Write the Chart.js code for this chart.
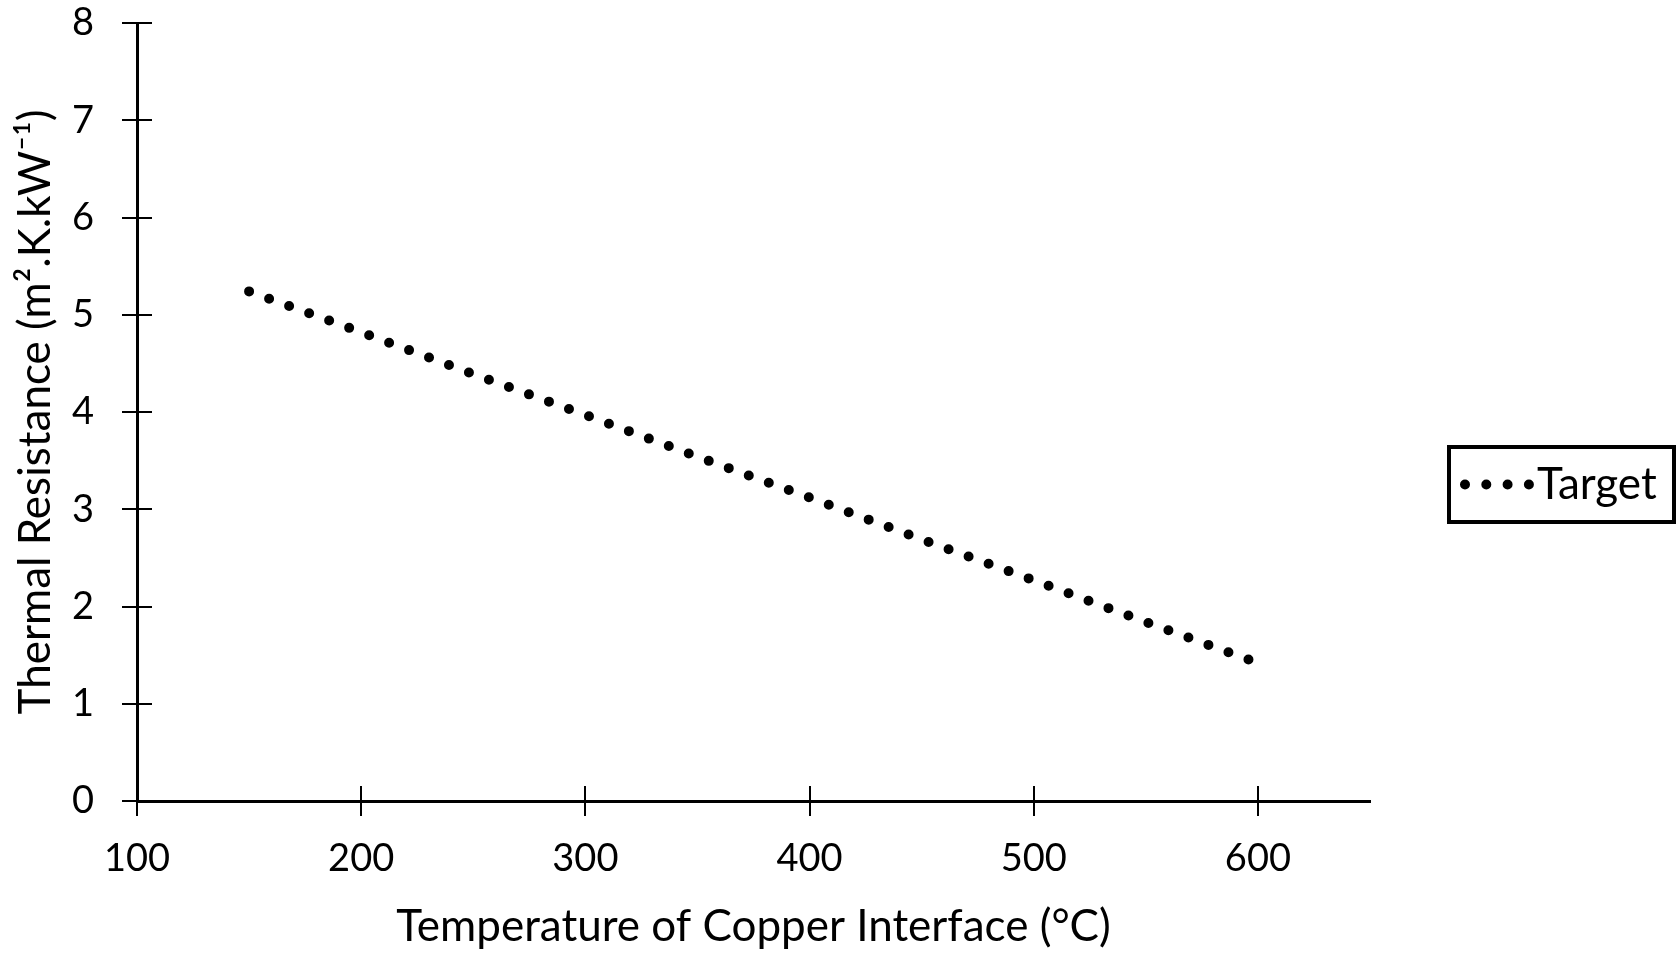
<!DOCTYPE html>
<html>
<head>
<meta charset="utf-8">
<script src="https://cdn.jsdelivr.net/npm/chart.js@4.4.1/dist/chart.umd.min.js"></script>
<style>
  html, body { margin: 0; padding: 0; background: #fff; }
  #wrap { width: 1677px; height: 953px; }
</style>
</head>
<body>
<div id="wrap"><canvas id="chart"></canvas></div>
<script>
// interface temperature (°C) and the target thermal resistance at each
const temperatures = [150, 200, 250, 300, 350, 400, 450, 500, 550, 600]
const targetResistance = [5.24, 4.82, 4.39, 3.97, 3.54, 3.12, 2.69, 2.27, 1.84, 1.42]
const seriesLabel = "Target"
const xTitle = "Temperature of Copper Interface (°C)"
const yTitle = "Thermal Resistance (m².K.kW⁻¹)"

const FONT = "Lato"
const TICK_LEN = 15
const DOT = { width: 10, dash: [0, 21.3] }

// Chart.js only draws ticks outside the axis; add the inner half so they cross
const crossTicks = {
  id: "crossTicks",
  afterDraw(chart) {
    const { ctx, scales: { x, y } } = chart
    ctx.save()
    ctx.strokeStyle = "#000"
    ctx.lineWidth = 2
    ctx.beginPath()
    y.ticks.forEach((t) => {
      const py = Math.round(y.getPixelForValue(t.value))
      ctx.moveTo(y.right, py)
      ctx.lineTo(y.right + TICK_LEN, py)
    })
    x.ticks.forEach((t) => {
      const px = Math.round(x.getPixelForValue(t.value))
      ctx.moveTo(px, x.top)
      ctx.lineTo(px, x.top - TICK_LEN)
    })
    ctx.stroke()
    ctx.restore()
  },
}

// framed legend on the right with a dotted sample
const boxedLegend = {
  id: "boxedLegend",
  afterDraw(chart) {
    const { ctx } = chart
    const ds = chart.data.datasets[0]
    const w = 225
    const h = 75
    const left = chart.width - w - 3
    const top = Math.round(chart.height / 2) - 30
    const midY = top + h / 2

    ctx.save()
    ctx.strokeStyle = "#000"
    ctx.lineWidth = 4
    ctx.strokeRect(left, top, w, h)

    ctx.lineWidth = ds.borderWidth
    ctx.lineCap = "round"
    ctx.setLineDash(ds.borderDash)
    ctx.beginPath()
    ctx.moveTo(left + 16, midY)
    ctx.lineTo(left + 80, midY)
    ctx.stroke()
    ctx.setLineDash([])

    ctx.fillStyle = "#000"
    ctx.font = `44px ${FONT}`
    ctx.textBaseline = "middle"
    ctx.fillText(ds.label, left + 88, midY)
    ctx.restore()
  },
}

new Chart(document.getElementById("chart"), {
  type: "line",
  data: {
    datasets: [
      {
        label: seriesLabel,
        data: temperatures.map((t, i) => ({ x: t, y: targetResistance[i] })),
        borderColor: "#000",
        borderWidth: DOT.width,
        borderDash: DOT.dash,
        borderCapStyle: "round",
        pointRadius: 0,
        tension: 0,
        fill: false,
      },
    ],
  },
  options: {
    responsive: true,
    maintainAspectRatio: false,
    animation: false,
    layout: {
      padding: { top: 23, right: 307, bottom: 0, left: 0 },
    },
    plugins: {
      legend: { display: false },
      tooltip: { enabled: false },
    },
    scales: {
      x: {
        type: "linear",
        min: 100,
        max: 650,
        afterFit: (scale) => {
          scale.height = 152
        },
        grid: {
          drawOnChartArea: false,
          drawTicks: true,
          tickLength: TICK_LEN,
          color: "#000",
          lineWidth: 2,
        },
        border: { display: true, color: "#000", width: 3 },
        ticks: {
          stepSize: 100,
          includeBounds: false,
          color: "#000",
          padding: 20,
          maxRotation: 0,
          font: { family: FONT, size: 38 },
        },
        title: {
          display: true,
          text: xTitle,
          color: "#000",
          padding: { top: 0, bottom: 0 },
          font: { family: FONT, size: 44 },
        },
      },
      y: {
        min: 0,
        max: 8,
        afterFit: (scale) => {
          // fixed width, and don't let the label padding push the plot down
          scale.width = 137
          scale.paddingTop = 0
          scale.paddingBottom = 0
        },
        grid: {
          drawOnChartArea: false,
          drawTicks: true,
          tickLength: TICK_LEN,
          color: "#000",
          lineWidth: 2,
        },
        border: { display: true, color: "#000", width: 3 },
        ticks: {
          stepSize: 1,
          color: "#000",
          padding: 28,
          font: { family: FONT, size: 38 },
        },
        title: {
          display: true,
          text: yTitle,
          color: "#000",
          padding: { top: 9, bottom: 0 },
          font: { family: FONT, size: 44 },
        },
      },
    },
  },
  plugins: [crossTicks, boxedLegend],
})
</script>
</body>
</html>
